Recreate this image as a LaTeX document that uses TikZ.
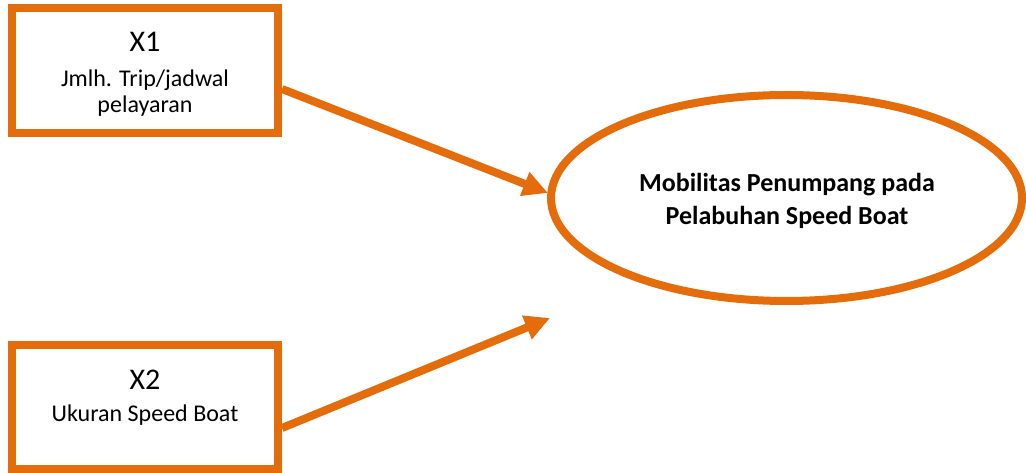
\documentclass[tikz,border=0pt]{standalone}
\usepackage{fontspec}
\setmainfont{Carlito}
\usetikzlibrary{arrows.meta,shapes.geometric}
\definecolor{org}{RGB}{228,108,10}
\begin{document}
\begin{tikzpicture}[x=1pt,y=1pt,
  box/.style={draw=org,line width=8pt,minimum width=266pt,inner sep=0pt},
  ell/.style={draw=org,line width=8pt,ellipse,minimum width=471pt,minimum height=206pt,inner sep=0pt},
  big/.style={anchor=base,inner sep=0pt,font=\fontsize{30}{36}\selectfont},
  small/.style={anchor=base,inner sep=0pt,font=\fontsize{24}{29}\selectfont},
  bold/.style={anchor=base,inner sep=0pt,font=\fontsize{26}{31}\selectfont\bfseries},
  conn/.style={draw=org,line width=8pt,-{Triangle[length=25pt,width=24pt]}}]
\useasboundingbox (0,0) rectangle (1026,472);
\node[box,minimum height=125pt] (x1) at (145,401.5) {};
\node[box,minimum height=124pt] (x2) at (145,65) {};
\node[ell] (y) at (786.5,274) {};
\node[big] (x1a) at (145,420) {X1};
\node[small] (x1b) at (145,385) {Jmlh. Trip/jadwal};
\node[small] (x1c) at (145,359) {pelayaran};
\node[big] (x2a) at (145,83) {X2};
\node[small] (x2b) at (145,51) {Ukuran Speed Boat};
\node[bold] (ya) at (787,280) {Mobilitas Penumpang pada};
\node[bold] (yb) at (787,247) {Pelabuhan Speed Boat};
\coordinate (t1) at (548,279);
\coordinate (t2) at (550,154);
\draw[conn] ([yshift=-18.5pt]x1.east) -- (t1);
\draw[conn] ([yshift=-21pt]x2.east) -- (t2);
\end{tikzpicture}
\end{document}
